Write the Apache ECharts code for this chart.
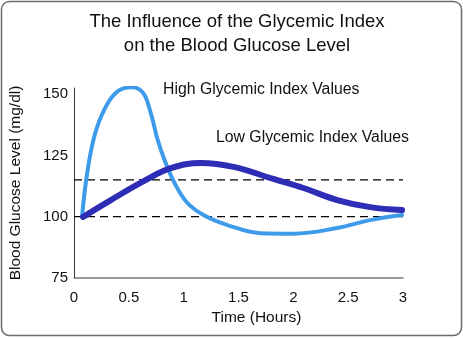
<!DOCTYPE html>
<html>
<head>
<meta charset="utf-8">
<script src="https://cdn.jsdelivr.net/npm/echarts@6/dist/echarts.min.js"></script>
<style>
html,body{margin:0;padding:0;background:#fff;}
#chart{width:463px;height:338px;}
</style>
</head>
<body>
<div id="chart"></div>
<script>
// Data
var titleLines = ['The Influence of the Glycemic Index', 'on the Blood Glucose Level'];
var xTicks = [0, 0.5, 1, 1.5, 2, 2.5, 3];
var yTicks = [75, 100, 125, 150];
var highGI = [[0.075,100.8],[0.12,117.7],[0.188,133.2],[0.28,144.0],[0.40,151.2],[0.53,152.8],[0.63,150.5],[0.70,142.3],[0.76,131.8],[0.83,122.6],[0.92,113.5],[1.03,105.8],[1.185,100.6],[1.4,96.6],[1.7,93.3],[2.0,93.1],[2.4,95.4],[2.7,98.6],[2.991,100.7]];
var lowGI = [[0.082,99.9],[0.336,106.8],[0.673,115.4],[0.882,119.8],[1.155,121.9],[1.455,120.3],[1.818,115.4],[2.091,111.7],[2.4,106.8],[2.7,103.9],[2.991,102.7]];
var refLevels = [100, 115];
var highLabel = 'High Glycemic Index Values';
var lowLabel = 'Low Glycemic Index Values';
var xName = 'Time (Hours)';
var yName = 'Blood Glucose Level (mg/dl)';

var FONT = '"Liberation Sans", Arial, Helvetica, sans-serif';
var chart = echarts.init(document.getElementById('chart'), null, {renderer: 'canvas'});

var refSeries = refLevels.map(function (v) {
  return {
    type: 'line',
    data: [[xTicks[0], v], [xTicks[xTicks.length - 1], v]],
    symbol: 'none',
    silent: true,
    z: 1,
    lineStyle: {color: '#000', width: 1.2, type: [8, 5]}
  };
});

var option = {
  animation: false,
  backgroundColor: '#fff',
  title: {
    text: titleLines.join('\n'),
    left: 232,
    top: 5,
    textAlign: 'center',
    textStyle: {fontFamily: FONT, fontSize: 18.5, fontWeight: 'normal', color: '#111', lineHeight: 24}
  },
  grid: {left: 73, right: 60, top: 88, bottom: 60, containLabel: false},
  xAxis: {
    type: 'value',
    min: xTicks[0], max: xTicks[xTicks.length - 1], interval: 0.5,
    name: xName,
    nameLocation: 'middle',
    nameGap: 32,
    nameTextStyle: {fontFamily: FONT, fontSize: 15.5, color: '#111', padding: [0, 0, 0, 36]},
    axisLine: {show: true, lineStyle: {color: '#777', width: 1.5}},
    axisTick: {show: false},
    splitLine: {show: false},
    axisLabel: {fontFamily: FONT, fontSize: 15, color: '#111', margin: 12,
      formatter: function (v) { return String(v); }}
  },
  yAxis: {
    type: 'value',
    min: yTicks[0], max: 152.5, interval: 25,
    name: yName,
    nameLocation: 'middle',
    nameGap: 50,
    nameRotate: 90,
    nameTextStyle: {fontFamily: FONT, fontSize: 15.5, color: '#111'},
    axisLine: {show: true, lineStyle: {color: '#333', width: 1}},
    axisTick: {show: false},
    splitLine: {show: false},
    axisLabel: {fontFamily: FONT, fontSize: 15, color: '#111', margin: 6,
      formatter: function (v) { return yTicks.indexOf(v) >= 0 ? String(v) : ''; }}
  },
  graphic: [
    {type: 'rect', shape: {x: 1.5, y: 1.5, width: 460, height: 334, r: 8}, style: {fill: 'none', stroke: '#6b6b6b', lineWidth: 1.5}, z: 100},
    {type: 'text', left: 163, top: 82, style: {text: highLabel, font: '15.8px ' + FONT, fill: '#111'}},
    {type: 'text', left: 216, top: 130, style: {text: lowLabel, font: '15.8px ' + FONT, fill: '#111'}}
  ],
  series: refSeries.concat([
    {
      name: 'High', type: 'line', data: highGI, symbol: 'none', smooth: 0.4, z: 3,
      lineStyle: {color: '#3d9be9', width: 4, cap: 'round'}
    },
    {
      name: 'Low', type: 'line', data: lowGI, symbol: 'none', smooth: 0.4, z: 4,
      lineStyle: {color: '#2e2db5', width: 6, cap: 'round'}
    }
  ])
};
chart.setOption(option);
</script>
</body>
</html>
